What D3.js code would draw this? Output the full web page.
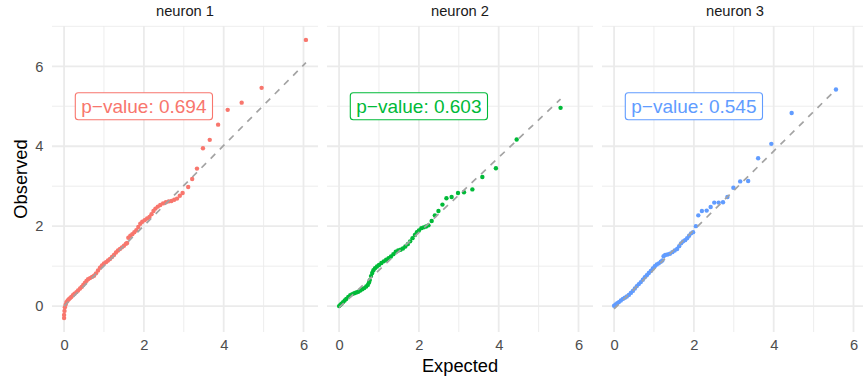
<!DOCTYPE html>
<html>
<head>
<meta charset="utf-8">
<script src="https://cdn.jsdelivr.net/npm/d3@7"></script>
<style>
  body { margin: 0; background: #ffffff; }
  svg { display: block; }
  text { font-family: "Liberation Sans", Arial, Helvetica, sans-serif; }
</style>
</head>
<body>
<svg id="chart" width="863" height="381"></svg>
<script>
// Facet names, p-values and colours
const panelNames = ["neuron 1", "neuron 2", "neuron 3"];
const pValues = ["0.694", "0.603", "0.545"];
const panelColors = ["#F8766D", "#00BA38", "#619CFF"];

// Expected vs observed quantiles, neuron 1
const expected1 = [0.00, 0.00, 0.01, 0.02, 0.04, 0.06, 0.09, 0.12, 0.15, 0.18, 0.22, 0.26, 0.31, 0.35, 0.40, 0.44, 0.48, 0.52, 0.56, 0.60, 0.65, 0.70, 0.75, 0.80, 0.85, 0.90, 0.95, 1.00, 1.05, 1.10, 1.15, 1.20, 1.25, 1.30, 1.35, 1.40, 1.45, 1.50, 1.55, 1.58, 1.61, 1.66, 1.71, 1.76, 1.81, 1.86, 1.91, 1.96, 2.02, 2.08, 2.14, 2.19, 2.24, 2.29, 2.35, 2.41, 2.48, 2.55, 2.62, 2.69, 2.76, 2.83, 2.90, 2.97, 3.11, 3.21, 3.33, 3.48, 3.65, 3.86, 4.10, 4.45, 4.95, 6.06];
const observed1 = [-0.30, -0.22, -0.12, -0.03, 0.04, 0.10, 0.14, 0.17, 0.20, 0.23, 0.27, 0.31, 0.35, 0.39, 0.44, 0.48, 0.53, 0.58, 0.63, 0.67, 0.70, 0.73, 0.76, 0.82, 0.89, 0.96, 1.02, 1.07, 1.10, 1.14, 1.18, 1.23, 1.28, 1.34, 1.39, 1.43, 1.47, 1.51, 1.56, 1.58, 1.71, 1.76, 1.80, 1.85, 1.90, 1.98, 2.06, 2.11, 2.15, 2.19, 2.23, 2.30, 2.38, 2.44, 2.49, 2.53, 2.57, 2.60, 2.62, 2.63, 2.66, 2.69, 2.76, 2.83, 2.98, 3.18, 3.44, 3.95, 4.16, 4.54, 4.91, 5.09, 5.46, 6.66];

// neuron 2
const expected2 = [0.00, 0.03, 0.06, 0.10, 0.14, 0.18, 0.23, 0.28, 0.33, 0.38, 0.43, 0.48, 0.53, 0.58, 0.63, 0.68, 0.72, 0.75, 0.77, 0.80, 0.83, 0.86, 0.90, 0.95, 1.00, 1.06, 1.12, 1.18, 1.24, 1.30, 1.36, 1.42, 1.48, 1.54, 1.60, 1.66, 1.72, 1.78, 1.84, 1.90, 1.95, 2.00, 2.06, 2.12, 2.18, 2.24, 2.32, 2.40, 2.49, 2.59, 2.69, 2.82, 2.98, 3.13, 3.34, 3.59, 3.93, 4.45, 5.55];
const observed2 = [0.00, 0.03, 0.06, 0.10, 0.14, 0.18, 0.23, 0.27, 0.30, 0.32, 0.34, 0.36, 0.39, 0.42, 0.45, 0.49, 0.53, 0.59, 0.65, 0.75, 0.83, 0.90, 0.95, 0.99, 1.03, 1.08, 1.12, 1.16, 1.20, 1.24, 1.30, 1.36, 1.39, 1.41, 1.44, 1.49, 1.55, 1.62, 1.70, 1.78, 1.85, 1.89, 1.95, 1.97, 1.99, 2.02, 2.13, 2.27, 2.38, 2.54, 2.70, 2.73, 2.83, 2.85, 2.92, 3.23, 3.45, 4.17, 4.96];

// neuron 3
const expected3 = [0.00, 0.04, 0.08, 0.12, 0.17, 0.22, 0.27, 0.32, 0.37, 0.42, 0.47, 0.52, 0.57, 0.62, 0.67, 0.72, 0.77, 0.82, 0.87, 0.92, 0.97, 1.02, 1.07, 1.12, 1.17, 1.21, 1.24, 1.28, 1.34, 1.40, 1.46, 1.52, 1.58, 1.63, 1.68, 1.73, 1.78, 1.83, 1.88, 1.93, 1.98, 2.05, 2.11, 2.20, 2.32, 2.42, 2.51, 2.62, 2.73, 2.84, 2.99, 3.16, 3.36, 3.61, 3.94, 4.45, 5.56];
const observed3 = [0.01, 0.04, 0.07, 0.10, 0.14, 0.18, 0.21, 0.24, 0.28, 0.33, 0.38, 0.44, 0.50, 0.55, 0.60, 0.66, 0.72, 0.77, 0.83, 0.88, 0.94, 1.00, 1.04, 1.07, 1.11, 1.14, 1.25, 1.28, 1.29, 1.31, 1.35, 1.39, 1.43, 1.50, 1.57, 1.62, 1.65, 1.70, 1.76, 1.82, 1.85, 2.00, 2.27, 2.38, 2.39, 2.48, 2.59, 2.59, 2.60, 2.73, 2.96, 3.12, 3.13, 3.70, 4.06, 4.83, 5.42];

// Reference line (intercept, slope) for each facet
const lineIntercepts = [0.00, -0.04, -0.07];
const lineSlopes = [1.005, 0.94, 0.987];

// Axis breaks and their labels
const xBreaks = [0, 2, 4, 6];
const xLabels = ["0", "2", "4", "6"];
const xMinorBreaks = [1, 3, 5];
const yBreaks = [0, 2, 4, 6];
const yLabels = ["0", "2", "4", "6"];
const yMinorBreaks = [1, 3, 5, 7];

// Label position in data units
const labelX = [2, 2, 2];
const labelY = [5, 5, 5];

const expectedAll = [expected1, expected2, expected3];
const observedAll = [observed1, observed2, observed3];

// ---- layout ----
const svg = d3.select("#chart");
const panelTop = 26, panelBottom = 332;
const panelLeft0 = 52, panelWidth = 266, panelGap = 9;

function expand(ext) {
  const pad = (ext[1] - ext[0]) * 0.05;
  return [ext[0] - pad, ext[1] + pad];
}
const xDomain = expand(d3.extent(expectedAll.flat()));
const yDomain = expand(d3.extent(observedAll.flat()));

const y = d3.scaleLinear().domain(yDomain).range([panelBottom, panelTop]);

const gridColor = "#EBEBEB";

panelNames.forEach((name, i) => {
  const left = panelLeft0 + i * (panelWidth + panelGap);
  const x = d3.scaleLinear().domain(xDomain).range([left, left + panelWidth]);
  const g = svg.append("g");

  // minor grid
  g.selectAll(".yminor").data(yMinorBreaks.filter(v => v >= yDomain[0] && v <= yDomain[1]))
    .enter().append("line")
    .attr("x1", left).attr("x2", left + panelWidth)
    .attr("y1", d => y(d)).attr("y2", d => y(d))
    .attr("stroke", gridColor).attr("stroke-width", 0.9);
  g.selectAll(".xminor").data(xMinorBreaks.filter(v => v >= xDomain[0] && v <= xDomain[1]))
    .enter().append("line")
    .attr("y1", panelTop).attr("y2", panelBottom)
    .attr("x1", d => x(d)).attr("x2", d => x(d))
    .attr("stroke", gridColor).attr("stroke-width", 0.9);
  // major grid
  g.selectAll(".ymajor").data(yBreaks)
    .enter().append("line")
    .attr("x1", left).attr("x2", left + panelWidth)
    .attr("y1", d => y(d)).attr("y2", d => y(d))
    .attr("stroke", gridColor).attr("stroke-width", 1.8);
  g.selectAll(".xmajor").data(xBreaks)
    .enter().append("line")
    .attr("y1", panelTop).attr("y2", panelBottom)
    .attr("x1", d => x(d)).attr("x2", d => x(d))
    .attr("stroke", gridColor).attr("stroke-width", 1.8);

  // facet title
  g.append("text")
    .attr("x", left + panelWidth / 2).attr("y", 16)
    .attr("text-anchor", "middle")
    .attr("font-size", 14.7).attr("fill", "#1A1A1A")
    .text(name);

  // x axis labels
  const xAxis = d3.axisBottom(x).tickValues(xBreaks)
    .tickFormat((d, k) => xLabels[k]).tickSize(0).tickPadding(8);
  const ax = g.append("g").attr("transform", `translate(0,${panelBottom})`).call(xAxis);
  ax.select(".domain").remove();
  ax.selectAll("text").attr("font-size", 14.7).attr("fill", "#4D4D4D")
    .attr("font-family", "'Liberation Sans', Arial, sans-serif");

  // y axis labels (first facet only)
  if (i === 0) {
    const yAxis = d3.axisLeft(y).tickValues(yBreaks)
      .tickFormat((d, k) => yLabels[k]).tickSize(0).tickPadding(8.5);
    const ay = g.append("g").attr("transform", `translate(${left},0)`).call(yAxis);
    ay.select(".domain").remove();
    ay.selectAll("text").attr("font-size", 14.7).attr("fill", "#4D4D4D")
      .attr("font-family", "'Liberation Sans', Arial, sans-serif");
  }

  // points
  const pts = expectedAll[i].map((e, k) => ({ e, o: observedAll[i][k] }));
  g.selectAll("circle").data(pts).enter().append("circle")
    .attr("cx", d => x(d.e)).attr("cy", d => y(d.o))
    .attr("r", 2.2).attr("fill", panelColors[i]);

  // reference line
  const ex = d3.extent(expectedAll[i]);
  g.append("line")
    .attr("x1", x(ex[0])).attr("y1", y(lineIntercepts[i] + lineSlopes[i] * ex[0]))
    .attr("x2", x(ex[1])).attr("y2", y(lineIntercepts[i] + lineSlopes[i] * ex[1]))
    .attr("stroke", "#A3A3A3").attr("stroke-width", 1.7)
    .attr("stroke-dasharray", "6.5,6.5");

  // p-value label
  const fs = 19;
  const cx = x(labelX[i]), cy = y(labelY[i]);
  const lab = g.append("g");
  const txt = lab.append("text")
    .attr("x", cx).attr("y", cy + fs * 0.35)
    .attr("text-anchor", "middle")
    .attr("font-size", fs).attr("fill", panelColors[i])
    .text("p\u2212value: " + pValues[i]);
  const w = txt.node().getComputedTextLength() + 12;
  const h = 27;
  lab.insert("rect", "text")
    .attr("x", cx - w / 2).attr("y", cy - h / 2)
    .attr("width", w).attr("height", h)
    .attr("rx", 3).attr("ry", 3)
    .attr("fill", "#ffffff").attr("stroke", panelColors[i]).attr("stroke-width", 1.1);
});

// axis titles
svg.append("text")
  .attr("x", (panelLeft0 + panelLeft0 + 3 * panelWidth + 2 * panelGap) / 2).attr("y", 372)
  .attr("text-anchor", "middle").attr("font-size", 18.3).attr("fill", "#000")
  .text("Expected");
svg.append("text")
  .attr("transform", `translate(26.5,${(panelTop + panelBottom) / 2}) rotate(-90)`)
  .attr("text-anchor", "middle").attr("font-size", 18.3).attr("fill", "#000")
  .text("Observed");
</script>
</body>
</html>
